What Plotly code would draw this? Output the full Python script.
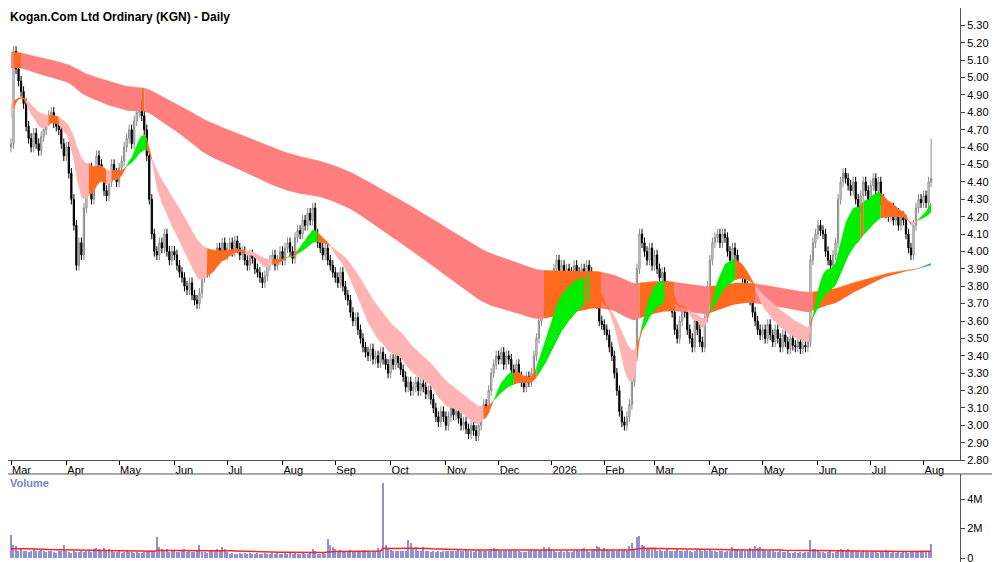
import plotly.graph_objects as go
import pandas as pd
import numpy as np

title = "Kogan.Com Ltd Ordinary (KGN) - Daily"
month_labels = ["Mar","Apr","May","Jun","Jul","Aug","Sep","Oct","Nov","Dec","2026","Feb","Mar","Apr","May","Jun","Jul","Aug"]

close_by_month = [
 [4.62,5.15,5.05,4.98,4.92,4.85,4.72,4.65,4.60,4.68,4.62,4.58,4.66,4.70,4.75,4.78,4.80,4.74,4.72,4.70,4.62,4.55],
 [4.60,4.45,4.30,4.15,3.92,4.05,3.98,4.25,4.35,4.48,4.30,4.42,4.55,4.50,4.45,4.35,4.32,4.40,4.50,4.45,4.40],
 [4.48,4.52,4.60,4.65,4.70,4.62,4.75,4.80,4.85,4.78,4.70,4.55,4.30,4.10,4.00,3.98,4.05,4.02,4.10,4.00,3.95,4.00],
 [3.98,3.92,3.88,3.85,3.80,3.78,3.82,3.75,3.72,3.70,3.76,3.85,3.90,3.88,3.95,3.92,3.98,4.02,4.00,4.05,3.98],
 [4.02,4.05,4.00,4.06,4.02,3.98,4.00,3.95,3.92,3.98,3.96,3.90,3.88,3.85,3.82,3.86,3.92,3.95,3.98,3.92,3.95,4.00],
 [3.95,4.02,4.05,4.00,3.96,4.08,4.12,4.10,4.18,4.15,4.22,4.18,4.25,4.10,4.05,4.02,3.98,4.02,3.95,3.92,3.88],
 [3.85,3.82,3.88,3.80,3.75,3.72,3.65,3.60,3.62,3.55,3.50,3.45,3.42,3.40,3.44,3.38,3.40,3.36,3.42,3.38,3.35,3.30],
 [3.38,3.35,3.40,3.36,3.32,3.28,3.22,3.25,3.20,3.22,3.25,3.20,3.24,3.22,3.18,3.20,3.15,3.10,3.05,3.02,3.08,3.05],
 [3.00,3.05,3.10,3.06,3.08,3.04,3.00,3.02,2.98,2.95,3.00,2.97,2.94,3.00,3.08,3.12,3.10,3.20,3.30,3.35,3.40],
 [3.38,3.42,3.35,3.40,3.38,3.32,3.30,3.35,3.28,3.25,3.22,3.28,3.25,3.30,3.40,3.50,3.60,3.65,3.70,3.75,3.80],
 [3.85,3.90,3.95,3.88,3.92,3.85,3.90,3.88,3.86,3.92,3.88,3.85,3.90,3.86,3.92,3.88,3.80,3.75,3.70,3.60,3.58],
 [3.55,3.52,3.45,3.40,3.30,3.20,3.08,3.02,3.00,3.05,3.12,3.25,3.40,3.90,4.10,4.05,4.00,3.95,4.02,3.92],
 [3.98,3.90,3.85,3.88,3.80,3.75,3.72,3.65,3.55,3.50,3.60,3.70,3.65,3.55,3.50,3.45,3.60,3.55,3.48,3.45,3.62,3.80],
 [3.95,4.05,4.08,4.10,4.05,4.10,4.08,4.00,3.95,4.02,3.98,3.90,3.88,3.85,3.80,3.75,3.72,3.65,3.60,3.55,3.52],
 [3.55,3.50,3.58,3.52,3.48,3.55,3.50,3.45,3.52,3.48,3.44,3.50,3.46,3.45,3.48,3.44,3.46,3.45,3.48,3.95,4.05,4.10],
 [4.15,4.12,4.10,4.00,3.95,3.92,3.98,4.05,4.30,4.40,4.45,4.42,4.38,4.35,4.40,4.30,4.25,4.32,4.40,4.35,4.30],
 [4.38,4.42,4.35,4.40,4.30,4.25,4.22,4.20,4.25,4.18,4.22,4.15,4.20,4.18,4.10,4.02,3.98,4.15,4.25,4.30,4.28],
 [4.32,4.28,4.40,4.42],
]
volume_by_month = [  # millions
 [1.6,0.9,0.85,0.5,0.6,0.45,0.5,0.4,0.45,0.6,0.5,0.45,0.65,0.5,0.4,0.45,0.5,0.4,0.35,0.45,0.5,0.9],
 [0.5,0.4,0.35,0.45,0.4,0.4,0.45,0.4,0.5,0.45,0.4,0.6,0.7,0.6,0.5,0.7,0.45,0.6,0.5,0.4,0.4],
 [0.45,0.35,0.4,0.45,0.4,0.4,0.35,0.4,0.35,0.35,0.4,0.45,0.4,0.4,0.45,1.45,0.75,0.65,0.5,0.6,0.4,0.45],
 [0.5,0.4,0.4,0.45,0.65,0.4,0.5,0.4,0.4,0.45,0.9,0.4,0.4,0.35,0.45,0.5,0.5,0.65,0.5,0.75,0.6],
 [0.4,0.3,0.35,0.3,0.3,0.35,0.3,0.35,0.3,0.35,0.3,0.3,0.35,0.3,0.3,0.35,0.3,0.3,0.35,0.3,0.35,0.3],
 [0.3,0.35,0.3,0.35,0.3,0.35,0.3,0.3,0.35,0.3,0.3,0.35,0.6,0.5,0.3,0.3,0.35,0.3,1.3,0.9,0.75],
 [0.65,0.5,0.55,0.4,0.5,0.45,0.55,0.5,0.5,0.45,0.5,0.45,0.55,0.5,0.4,0.5,0.45,0.7,0.55,5.1,0.9,0.65],
 [0.55,0.5,0.5,0.5,0.5,0.45,0.5,1.25,1.0,0.6,0.75,0.5,0.5,0.75,0.5,0.45,0.4,0.45,0.4,0.45,0.4,0.45],
 [0.5,0.45,0.5,0.45,0.5,0.55,0.5,0.5,0.55,0.5,0.5,0.4,0.5,0.55,0.45,0.5,0.45,0.5,0.65,0.7,0.6],
 [0.55,0.5,0.5,0.45,0.5,0.55,0.5,0.45,0.45,0.4,0.4,0.4,0.45,0.55,0.5,0.55,0.45,0.55,0.75,0.6,0.75],
 [0.65,0.5,0.4,0.4,0.45,0.4,0.5,0.4,0.4,0.5,0.55,0.5,0.6,0.7,0.5,0.4,0.45,0.6,0.85,0.75,0.55],
 [0.7,0.65,0.5,0.55,0.5,0.5,0.55,0.5,0.6,0.5,0.85,1.0,0.6,1.45,1.5,0.9,0.8,0.7,0.65,0.7],
 [0.6,0.5,0.55,0.5,0.45,0.6,0.5,0.45,0.5,0.65,0.5,0.5,0.45,0.55,0.5,0.4,0.5,0.55,0.6,0.5,0.55,0.5],
 [0.6,0.5,0.45,0.4,0.5,0.45,0.4,0.5,0.45,0.75,0.6,0.55,0.5,0.55,0.45,0.5,0.7,0.6,0.8,0.7,0.75],
 [0.6,0.5,0.5,0.45,0.45,0.4,0.4,0.45,0.4,0.4,0.45,0.35,0.35,0.4,0.35,0.4,0.35,0.4,0.4,1.2,0.6,0.6],
 [0.5,0.4,0.4,0.35,0.4,0.45,0.35,0.4,0.5,0.6,0.55,0.45,0.6,0.5,0.45,0.5,0.45,0.4,0.5,0.45,0.4],
 [0.4,0.45,0.4,0.35,0.4,0.45,0.55,0.4,0.35,0.4,0.35,0.4,0.35,0.4,0.4,0.35,0.45,0.4,0.45,0.4,0.4],
 [0.45,0.4,0.5,0.95],
]
last_high = 4.65
price_ticks = [round(2.8 + 0.1 * i, 2) for i in range(26)]
vol_ticks = [0, 2, 4]
vol_tick_text = ["0", "2M", "4M"]
ema_periods = [12, 30, 150, 240]
ema_seeds = [4.78, 4.86, 5.06, 5.15]
vol_ma_period = 50
vol_ma_seed = 0.6

close = [c for m in close_by_month for c in m]
volume = [v for m in volume_by_month for v in m]
month_start = np.cumsum([0] + [len(m) for m in close_by_month[:-1]]).tolist()
n = len(close)
x = list(range(n))
opn = [close[0] - 0.02] + close[:-1]
high = [max(o, c) + 0.03 for o, c in zip(opn, close)]
low = [min(o, c) - 0.03 for o, c in zip(opn, close)]
high[-1] = last_high

def ema(vals, p, seed):
    a = 2 / (p + 1)
    out, e = [], seed
    for v in vals:
        e = e + a * (v - e)
        out.append(e)
    return np.array(out)

e1, e2, e3, e4 = [ema(close, p, s) for p, s in zip(ema_periods, ema_seeds)]

fig = go.Figure()

def add_ribbon(fast, slow, cols, thresh, lag):
    cls = []
    for i in range(n):
        d = fast[i] - (fast[i - lag] if i >= lag else fast[0])
        if fast[i] < slow[i] and d <= 0:
            cls.append(0)
        elif fast[i] > slow[i] and d > thresh:
            cls.append(2)
        else:
            cls.append(1)
    up = np.maximum(fast, slow); lo = np.minimum(fast, slow)
    i = 0
    while i < n:
        j = i
        while j + 1 < n and cls[j + 1] == cls[i]:
            j += 1
        s, e = i, min(j + 1, n - 1)
        xs = x[s:e + 1]
        fig.add_trace(go.Scatter(x=xs, y=lo[s:e + 1], mode="lines", line=dict(width=0), hoverinfo="skip", showlegend=False))
        fig.add_trace(go.Scatter(x=xs, y=up[s:e + 1], mode="lines", line=dict(width=0.5, color=cols[cls[i]]),
                                 fill="tonexty", fillcolor=cols[cls[i]], hoverinfo="skip", showlegend=False))
        i = j + 1

add_ribbon(e3, e4, ["#ff7f7f", "#ff6a1f", "#3cb371"], 0.004, 3)
add_ribbon(e1, e2, ["#ffb3b3", "#ff6a1f", "#00ee00"], 0.02, 3)

fig.add_trace(go.Candlestick(x=x, open=opn, high=high, low=low, close=close,
    increasing=dict(line=dict(color="#8a8a8a", width=1), fillcolor="#ffffff"),
    decreasing=dict(line=dict(color="#000000", width=1), fillcolor="#000000"),
    whiskerwidth=0, showlegend=False, xaxis="x", yaxis="y"))

vol_ma = ema(volume, vol_ma_period, vol_ma_seed)
fig.add_trace(go.Bar(x=x, y=volume, marker=dict(color="#9090d8", line=dict(width=0)), width=0.45,
                     showlegend=False, xaxis="x2", yaxis="y2"))
fig.add_trace(go.Scatter(x=x, y=vol_ma, mode="lines", line=dict(color="#ff2020", width=1.5),
                         showlegend=False, xaxis="x2", yaxis="y2"))

xr = [-1.2, 377.5]
tickfont = dict(family="Liberation Sans", size=11, color="#000000")
fig.update_layout(
    width=1000, height=562, margin=dict(l=0, r=48, t=0, b=0),
    paper_bgcolor="white", plot_bgcolor="white",
    xaxis=dict(range=xr, domain=[0, 1], anchor="y", tickmode="array", tickvals=month_start, ticktext=month_labels,
               ticks="outside", ticklen=4, tickcolor="#000", showline=True, linecolor="#555", linewidth=1,
               ticklabelposition="outside right", tickfont=tickfont, showgrid=False, zeroline=False,
               rangeslider=dict(visible=False)),
    yaxis=dict(domain=[105/562, 1], range=[2.80, 5.40], side="right", tickvals=price_ticks,
               ticktext=[f"{t:.2f}" for t in price_ticks], ticks="outside", ticklen=4, showline=True,
               linecolor="#555", tickfont=tickfont, showgrid=False, zeroline=False),
    xaxis2=dict(range=xr, domain=[0, 1], anchor="y2", showticklabels=False, showgrid=False, zeroline=False),
    yaxis2=dict(domain=[0, 91/562], range=[-0.4, 5.7], side="right", tickvals=vol_ticks, ticktext=vol_tick_text,
                ticks="outside", ticklen=4, showline=True, linecolor="#555", tickfont=tickfont,
                showgrid=False, zeroline=False),
    bargap=0,
    shapes=[dict(type="line", xref="paper", yref="paper", x0=0, x1=1.048, y0=91/562, y1=91/562,
                 line=dict(color="#555", width=1))],
    annotations=[
        dict(text="<b>" + title + "</b>", xref="paper", yref="paper", x=0.0, y=1.0, xanchor="left", yanchor="top",
             showarrow=False, font=dict(family="Liberation Sans", size=12, color="#000")),
        dict(text="<b>Volume</b>", xref="paper", yref="paper", x=0.0, y=90/562, xanchor="left", yanchor="top",
             showarrow=False, font=dict(family="Liberation Sans", size=11, color="#8080c0")),
    ],
)
fig.write_html("out.html")
